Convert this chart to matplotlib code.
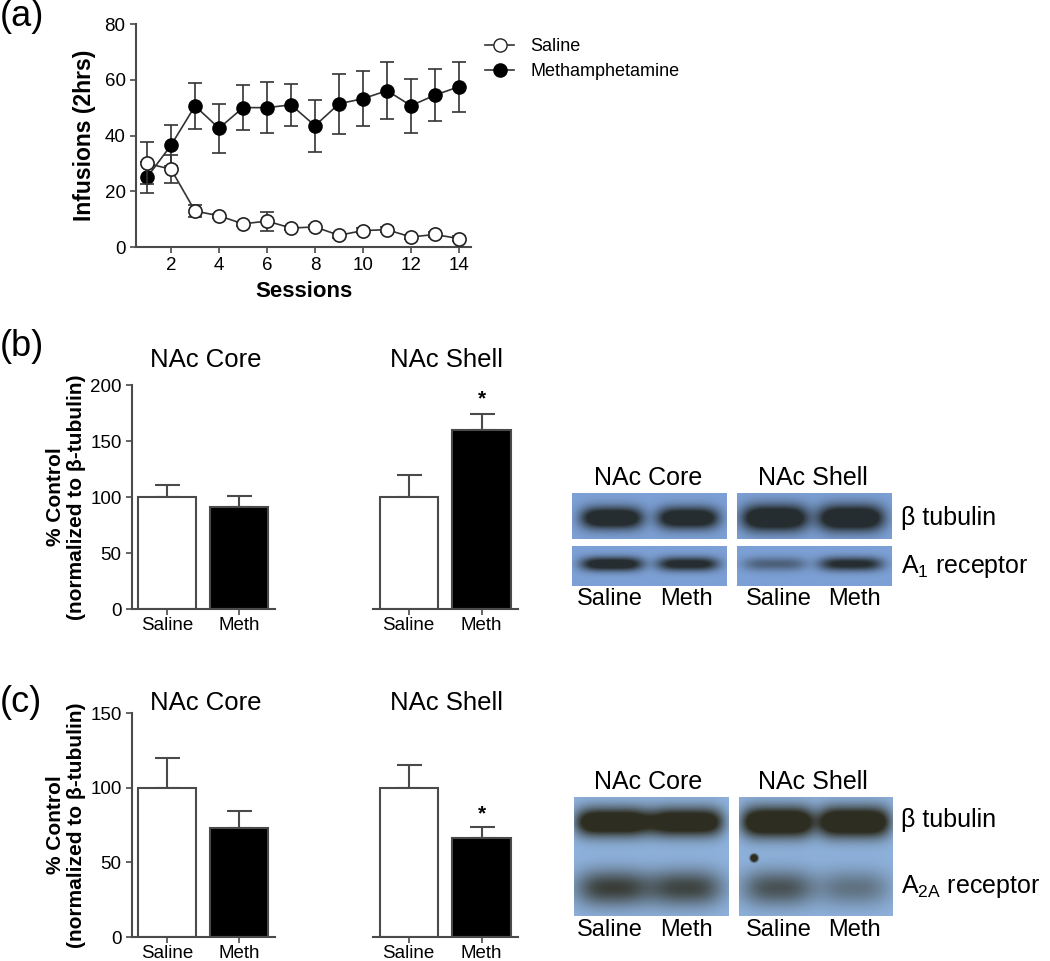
import numpy as np
import matplotlib
matplotlib.use('Agg')
import matplotlib.pyplot as plt
from matplotlib.lines import Line2D

plt.rcParams['font.family'] = ['Liberation Sans', 'DejaVu Sans']
plt.rcParams['mathtext.fontset'] = 'custom'
plt.rcParams['mathtext.rm'] = 'Liberation Sans'

# ---------------- data ----------------
sessions = list(range(1, 15))
saline_mean = [30.0, 27.9, 12.9, 11.2, 8.3, 9.3, 6.8, 7.2, 4.2, 5.9, 6.2, 3.6, 4.5, 3.0]
saline_sem = [7.5, 5.0, 2.1, 0.8, 0.8, 3.4, 0.8, 0.8, 0.8, 0.8, 0.8, 0.8, 0.8, 0.8]
meth_mean = [25.0, 36.5, 50.6, 42.6, 50.0, 50.0, 51.0, 43.5, 51.4, 53.2, 56.1, 50.7, 54.5, 57.5]
meth_sem = [5.5, 7.4, 8.3, 8.8, 8.2, 9.1, 7.6, 9.3, 10.7, 9.9, 10.1, 9.7, 9.2, 9.0]

groups = ['Saline', 'Meth']
b_core_mean = [100.0, 91.5]
b_core_sem = [10.8, 9.8]
b_shell_mean = [100.0, 160.0]
b_shell_sem = [19.2, 13.9]
c_core_mean = [100.0, 72.9]
c_core_sem = [19.9, 11.6]
c_shell_mean = [100.0, 66.4]
c_shell_sem = [15.0, 7.4]

# relative band darkness per lane (Saline, Meth)
blot_b_tub_core = [0.95, 0.92]
blot_b_tub_shell = [1.0, 1.0]
blot_b_a1_core = [0.85, 0.75]
blot_b_a1_shell = [0.35, 0.7]
blot_c_tub_core = [0.95, 0.92]
blot_c_tub_shell = [1.0, 1.0]
blot_c_a2a_core = [0.55, 0.52]
blot_c_a2a_shell = [0.45, 0.3]

W, H = 1050, 961
fig = plt.figure(figsize=(W / 100, H / 100), dpi=100)

def px_axes(x0, y0, x1, y1):
    return fig.add_axes([x0 / W, 1 - y1 / H, (x1 - x0) / W, (y1 - y0) / H])

SP = '#4a4a4a'

def style_axes(ax, left=True):
    for s in ['top', 'right']:
        ax.spines[s].set_visible(False)
    ax.spines['bottom'].set_color(SP)
    ax.spines['bottom'].set_linewidth(1.5)
    if left:
        ax.spines['left'].set_color(SP)
        ax.spines['left'].set_linewidth(1.5)
    else:
        ax.spines['left'].set_visible(False)
        ax.tick_params(axis='y', left=False, labelleft=False)
    ax.tick_params(colors=SP, width=1.2, length=4, labelcolor='black')

# ---------------- panel (a) ----------------
axa = px_axes(136, 24, 471, 247)
style_axes(axa)
axa.errorbar(sessions, meth_mean, yerr=meth_sem, color='#333333', lw=1.2,
             marker='o', ms=9.5, mfc='black', mec='black', capsize=5,
             elinewidth=1.2, capthick=1.2, zorder=3)
axa.errorbar(sessions, saline_mean, yerr=saline_sem, color='#333333', lw=1.2,
             marker='o', ms=9.5, mfc='white', mec='#222222', mew=1.2, capsize=5,
             elinewidth=1.2, capthick=1.2, zorder=4)
axa.set_xlim(0.54, 14.5)
axa.set_ylim(0, 80)
axa.set_xticks([2, 4, 6, 8, 10, 12, 14])
axa.set_yticks([0, 20, 40, 60, 80])
axa.tick_params(labelsize=13.5)
axa.set_xlabel('Sessions', fontsize=16, fontweight='bold', labelpad=5)
axa.set_ylabel('Infusions (2hrs)', fontsize=16.5, fontweight='bold', labelpad=6)
handles = [Line2D([0], [0], color='#333333', lw=1.2, marker='o', ms=9.5, mfc='white', mec='#222222'),
           Line2D([0], [0], color='#333333', lw=1.2, marker='o', ms=9.5, mfc='black', mec='black')]
axa.legend(handles, ['Saline', 'Methamphetamine'], loc='upper left',
           bbox_to_anchor=((478 - 136) / 335, 1 - (31 - 24) / 223), frameon=False,
           fontsize=13, handlelength=1.6, handletextpad=0.9, labelspacing=0.45,
           borderaxespad=0)

# ---------------- bar panels ----------------
def bar_panel(x0, x1, y0, y1, means, sems, ymax, yticks, left, star=None):
    ax = px_axes(x0, y0, x1, y1)
    style_axes(ax, left=left)
    xs = [0, 1]
    ax.bar(xs, means, width=0.8, color=['white', 'black'], edgecolor=SP,
           linewidth=1.5, zorder=2)
    for x, m, e in zip(xs, means, sems):
        ax.errorbar([x], [m], yerr=[[0], [e]], fmt='none', ecolor=SP,
                    elinewidth=1.5, capsize=9, capthick=1.5, zorder=1)
    if star is not None:
        ax.text(1, means[1] + sems[1] + star, '*', ha='center', va='bottom',
                fontsize=15, fontweight='bold')
    ax.set_xlim(-0.49, 1.5)
    ax.set_ylim(0, ymax)
    ax.set_yticks(yticks)
    ax.set_xticks(xs)
    ax.set_xticklabels(groups)
    ax.tick_params(axis='y', labelsize=13.5)
    ax.tick_params(axis='x', labelsize=13.5, length=4, pad=2)
    return ax

# (b)
bar_panel(132, 275, 385, 609, b_core_mean, b_core_sem, 200, [0, 50, 100, 150, 200], True)
bar_panel(373, 518, 385, 609, b_shell_mean, b_shell_sem, 200, [0, 50, 100, 150, 200], False, star=5)
# (c)
bar_panel(132, 275, 713, 937, c_core_mean, c_core_sem, 150, [0, 50, 100, 150], True)
bar_panel(373, 518, 713, 937, c_shell_mean, c_shell_sem, 150, [0, 50, 100, 150], False, star=2)

def ftext(x, y, s, **kw):
    fig.text(x / W, 1 - y / H, s, **kw)

for yy in (360, 703):
    ftext(206, yy, 'NAc Core', ha='center', va='center', fontsize=18.5)
    ftext(447, yy, 'NAc Shell', ha='center', va='center', fontsize=18.5)

for yc in (497, 825):
    ftext(66, yc, '% Control\n(normalized to \u03b2-tubulin)', rotation=90,
          ha='center', va='center', fontsize=15, fontweight='bold',
          multialignment='center', linespacing=1.15)

ftext(0, 17, '(a)', ha='left', va='center', fontsize=26)
ftext(0, 347, '(b)', ha='left', va='center', fontsize=26)
ftext(0, 703, '(c)', ha='left', va='center', fontsize=26)

# ---------------- blots ----------------
def blot(x0, y0, x1, y1, rows, bg, band_col, extra=None):
    """rows: list of (lane_x, band_y, band_w, band_h, intensities, sharpness)"""
    ax = px_axes(x0, y0, x1, y1)
    w, h = x1 - x0, y1 - y0
    xx, yy = np.meshgrid(np.linspace(0, w, w * 3), np.linspace(0, h, h * 3))
    I = np.zeros_like(xx)
    for lane_x, band_y, band_w, band_h, intens, sharp in rows:
        for cx, a in zip(lane_x, intens):
            fx = np.exp(-np.abs((xx - (cx - x0)) / (band_w / 2)) ** sharp)
            fy = np.exp(-((yy - (band_y - y0)) / (band_h / 2)) ** 2)
            I += a * fx * fy
    if extra is not None:
        ex, ey, er = extra
        I += np.exp(-(((xx - (ex - x0)) ** 2 + (yy - (ey - y0)) ** 2) / er ** 2) ** 2)
    I = np.clip(1.6 * I, 0, 1)
    bgc = np.array(bg)
    bc = np.array(band_col)
    img = bgc[None, None, :] * (1 - I[..., None]) + bc[None, None, :] * I[..., None]
    ax.imshow(img, extent=(0, w, h, 0), aspect='auto', interpolation='bilinear')
    ax.set_axis_off()
    return ax

bg_b = (0.49, 0.63, 0.84)
bg_c = (0.56, 0.70, 0.87)
band_b = (0.15, 0.18, 0.19)
band_c = (0.18, 0.18, 0.13)

# (b) blots
blot(572, 493, 727, 539, [([612, 688], 518, 62, 22, blot_b_tub_core, 4)], bg_b, band_b)
blot(737, 493, 892, 539, [([775, 851], 518, 66, 26, blot_b_tub_shell, 4)], bg_b, band_b)
blot(572, 546, 727, 586, [([612, 688], 564, 62, 14, blot_b_a1_core, 4)], bg_b, band_b)
blot(737, 546, 892, 586, [([775, 851], 564, 64, 14, blot_b_a1_shell, 4)], bg_b, band_b)
# (c) blots
blot(574, 797, 729, 916,
     [([613, 686], 822, 74, 28, blot_c_tub_core, 5),
      ([613, 686], 888, 74, 36, blot_c_a2a_core, 3)], bg_c, band_c)
blot(739, 797, 893, 916,
     [([778, 854], 822, 72, 30, blot_c_tub_shell, 5),
      ([778, 854], 888, 72, 36, blot_c_a2a_shell, 3)], bg_c, band_c,
     extra=(754, 858, 4))

for yl, ys in ((478, 599), (782, 930)):
    ftext(648, yl, 'NAc Core', ha='center', va='center', fontsize=18)
    ftext(813, yl, 'NAc Shell', ha='center', va='center', fontsize=18)
    for xs_, lab in ((610, 'Saline'), (686, 'Meth'), (779, 'Saline'), (854, 'Meth')):
        ftext(xs_, ys, lab, ha='center', va='center', fontsize=17)

ftext(901, 518, '\u03b2 tubulin', ha='left', va='center', fontsize=18)
ftext(901, 566, r'A$_{\mathrm{1}}$ receptor', ha='left', va='center', fontsize=18)
ftext(901, 820, '\u03b2 tubulin', ha='left', va='center', fontsize=18)
ftext(901, 886, r'A$_{\mathrm{2A}}$ receptor', ha='left', va='center', fontsize=18)

fig.savefig('out.png', dpi=100)
